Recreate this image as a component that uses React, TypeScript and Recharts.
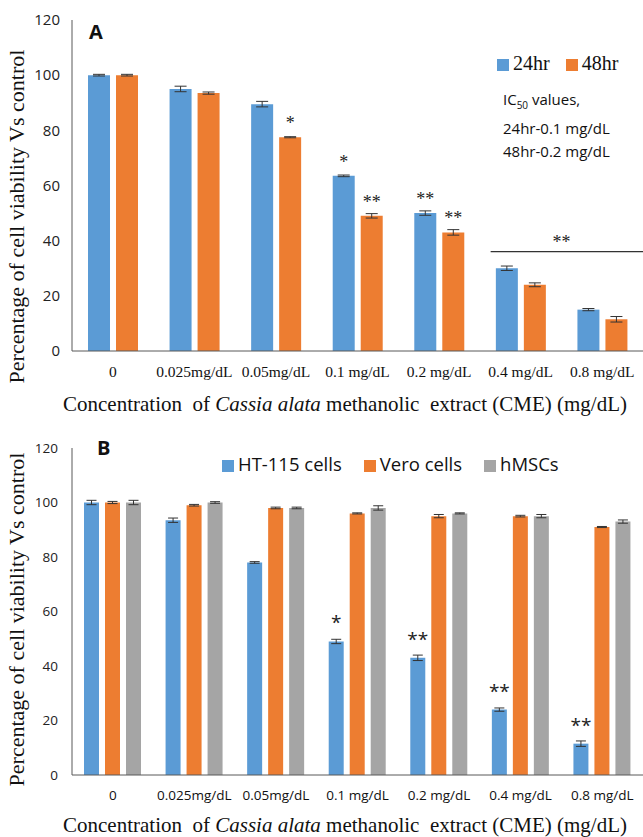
import React from 'react';
import { BarChart, Bar, XAxis, YAxis, ErrorBar, LabelList, Legend, Label, ReferenceLine } from 'recharts';

const categories = ['0', '0.025mg/dL', '0.05mg/dL', '0.1 mg/dL', '0.2 mg/dL', '0.4 mg/dL', '0.8 mg/dL'];
const yTicks = [0, 20, 40, 60, 80, 100, 120];

// panel A: HT-115 viability by exposure time
const hr24 = [100, 95, 89.5, 63.5, 50, 30, 15];
const hr24Err = [0.3, 1, 1, 0.3, 0.8, 0.8, 0.4];
const hr48 = [100, 93.5, 77.5, 49, 43, 24, 11.5];
const hr48Err = [0.3, 0.4, 0.2, 0.8, 1, 0.7, 1];
const sig24 = ['', '', '', '*', '**', '', ''];
const sig48 = ['', '', '*', '**', '**', '', ''];

// panel B: cell lines at 48hr
const ht115 = [100, 93.5, 78, 49, 43, 24, 11.5];
const ht115Err = [0.8, 0.8, 0.3, 0.8, 1, 0.6, 1];
const vero = [100, 99, 98, 96, 95, 95, 91];
const veroErr = [0.4, 0.3, 0.3, 0.2, 0.6, 0.3, 0.2];
const hmsc = [100, 100, 98, 98, 96, 95, 93];
const hmscErr = [0.8, 0.3, 0.3, 0.8, 0.2, 0.6, 0.6];
const sigHT = ['', '', '', '*', '**', '**', '**'];

const BLUE = '#5B9BD5';
const ORANGE = '#ED7D31';
const GRAY = '#A5A5A5';
const SERIF = '"Liberation Serif", "Times New Roman", serif';
const SANS = '"Open Sans", "Noto Sans", sans-serif';

const dataA = categories.map((cat, i) => ({
  cat, h24: hr24[i], e24: hr24Err[i], s24: sig24[i], h48: hr48[i], e48: hr48Err[i], s48: sig48[i],
}));
const dataB = categories.map((cat, i) => ({
  cat, ht: ht115[i], eht: ht115Err[i], sht: sigHT[i], vero: vero[i], evero: veroErr[i], hmsc: hmsc[i], ehmsc: hmscErr[i],
}));

const legendText = (pad: number) => (v: string) => <span style={{ color: '#111', paddingRight: pad }}>{v}</span>;

const XTitle = (props: any) => {
  const { viewBox, lift } = props;
  return (
    <text x={345} y={viewBox.y + viewBox.height - lift} textAnchor="middle" fontFamily={SERIF} fontSize={21}
      fill="#111" style={{ whiteSpace: 'pre' }}>
      {'Concentration  of '}<tspan fontStyle="italic">Cassia alata</tspan>{' methanolic  extract (CME) (mg/dL)'}
    </text>
  );
};

const YTitle = (props: any) => {
  const { viewBox, shift } = props;
  const cy = viewBox.y + viewBox.height / 2 + shift;
  return (
    <text x={19} y={cy} transform={`rotate(-90 19 ${cy})`} textAnchor="middle" dominantBaseline="middle"
      fontFamily={SERIF} fontSize={22} fill="#111">
      Percentage of cell viability Vs control
    </text>
  );
};

// long significance bar spanning the two highest doses
const SigLine = (props: any) => {
  const { x1, x2, y1 } = props;
  return <line x1={x1 - 30} x2={x2 + 42} y1={y1} y2={y1} stroke="#333" strokeWidth={1.2} />;
};

const errStyle = { stroke: '#333', strokeWidth: 1 };

export default function App() {
  return (
    <div style={{ position: 'absolute', left: 0, top: 0, width: 643, height: 837, background: '#fff' }}>
      <BarChart width={643} height={420} data={dataA} margin={{ top: 20, right: 0, left: 0, bottom: 0 }} barGap={6} barCategoryGap="20%">
        <YAxis width={72} domain={[0, 120]} ticks={yTicks} interval={0} tickLine={false} axisLine={{ stroke: '#595959' }}
          tick={{ fill: '#222', fontSize: 15, fontFamily: SANS }} tickMargin={6}>
          <Label content={<YTitle shift={31} />} />
        </YAxis>
        <XAxis dataKey="cat" height={69} interval={0} tickLine={false} axisLine={{ stroke: '#595959' }}
          tick={{ fill: '#111', fontSize: 15.5, fontFamily: SERIF }} tickMargin={9}>
          <Label content={<XTitle lift={9} />} />
        </XAxis>
        <Legend verticalAlign="middle" align="center" layout="horizontal" iconType="square" iconSize={12} formatter={legendText(6)}
          wrapperStyle={{ top: 52, left: 497, width: 'auto', fontFamily: SERIF, fontSize: 20 }} />
        <ReferenceLine segment={[{ x: '0.4 mg/dL', y: 36 }, { x: '0.8 mg/dL', y: 36 }]} shape={<SigLine />}
          label={{ value: '**', position: 'top', fill: '#222', fontSize: 18, fontFamily: SERIF, offset: 4 }} />
        <Bar dataKey="h24" name="24hr" fill={BLUE} barSize={22} isAnimationActive={false}>
          <ErrorBar dataKey="e24" width={6} direction="y" {...errStyle} />
          <LabelList dataKey="s24" position="top" offset={8} fill="#222" fontSize={18} fontFamily={SERIF} />
        </Bar>
        <Bar dataKey="h48" name="48hr" fill={ORANGE} barSize={22} isAnimationActive={false}>
          <ErrorBar dataKey="e48" width={6} direction="y" {...errStyle} />
          <LabelList dataKey="s48" position="top" offset={8} fill="#222" fontSize={18} fontFamily={SERIF} />
        </Bar>
      </BarChart>

      <BarChart width={643} height={417} data={dataB} margin={{ top: 28, right: 0, left: 0, bottom: 0 }} barGap={6} barCategoryGap="15%">
        <YAxis width={72} domain={[0, 120]} ticks={yTicks} interval={0} tickLine={false} axisLine={{ stroke: '#595959' }}
          tick={{ fill: '#222', fontSize: 13.5, fontFamily: SANS }} tickMargin={8}>
          <Label content={<YTitle shift={8} />} />
        </YAxis>
        <XAxis dataKey="cat" height={62} interval={0} tickLine={false} axisLine={{ stroke: '#595959' }}
          tick={{ fill: '#111', fontSize: 13.5, fontFamily: SANS }} tickMargin={9}>
          <Label content={<XTitle lift={5} />} />
        </XAxis>
        <Legend verticalAlign="middle" align="center" layout="horizontal" iconType="square" iconSize={12} formatter={legendText(12)}
          wrapperStyle={{ top: 31, left: 222, width: 'auto', fontFamily: SANS, fontSize: 18.5 }} />
        <Bar dataKey="ht" name="HT-115 cells" fill={BLUE} barSize={15} isAnimationActive={false}>
          <ErrorBar dataKey="eht" width={5} direction="y" {...errStyle} />
          <LabelList dataKey="sht" position="top" offset={12} fill="#222" fontSize={19} fontFamily={SANS} />
        </Bar>
        <Bar dataKey="vero" name="Vero cells" fill={ORANGE} barSize={15} isAnimationActive={false}>
          <ErrorBar dataKey="evero" width={5} direction="y" {...errStyle} />
        </Bar>
        <Bar dataKey="hmsc" name="hMSCs" fill={GRAY} barSize={15} isAnimationActive={false}>
          <ErrorBar dataKey="ehmsc" width={5} direction="y" {...errStyle} />
        </Bar>
      </BarChart>

      <div style={{ position: 'absolute', left: 89, top: 18, fontFamily: SANS, fontWeight: 700, fontSize: 20, color: '#111' }}>A</div>
      <div style={{ position: 'absolute', left: 97, top: 434, fontFamily: SANS, fontWeight: 700, fontSize: 20, color: '#111' }}>B</div>
      <div style={{ position: 'absolute', left: 503, top: 88, fontFamily: SANS, fontSize: 15, lineHeight: '23px', color: '#111', whiteSpace: 'nowrap' }}>
        <div>IC<sub style={{ fontSize: 10 }}>50</sub> values,</div>
        <div>24hr-0.1  mg/dL</div>
        <div>48hr-0.2  mg/dL</div>
      </div>
    </div>
  );
}
